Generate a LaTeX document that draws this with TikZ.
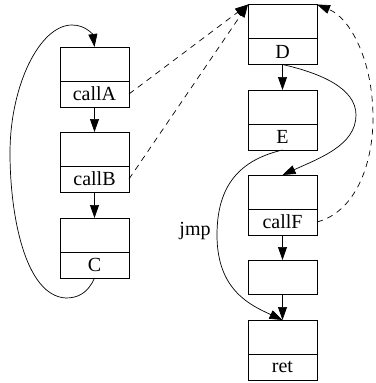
\documentclass[tikz,border=0pt]{standalone}
\usepackage{fontspec}
\setmainfont{Liberation Serif}
\usetikzlibrary{arrows.meta,positioning}
\begin{document}
\begin{tikzpicture}[x=1pt,y=-1pt,
  every node/.style={font=\fontsize{20}{22}\selectfont},
  tp/.style={draw,line width=0.7pt,minimum width=69pt,minimum height=34pt,inner sep=0pt,outer sep=0pt},
  bt/.style={draw,line width=0.7pt,minimum width=69pt,minimum height=26pt,inner sep=0pt,outer sep=0pt},
  edge/.style={line width=0.7pt,-{Triangle[length=13pt,width=9pt]}},
  dedge/.style={edge,dash pattern=on 6pt off 5pt}]
\useasboundingbox (0,0) rectangle (375,383);
% left column
\node[tp] (At) at (94.5,64) {};
\node[bt,below=0pt of At] (A) {callA};
\node[tp] (Bt) at (94.5,149) {};
\node[bt,below=0pt of Bt] (B) {callB};
\node[tp] (Ct) at (94.5,235) {};
\node[bt,below=0pt of Ct] (C) {C};
% right column
\node[tp] (Dt) at (282.5,21.5) {};
\node[bt,below=0pt of Dt] (D) {D};
\node[tp] (Et) at (282.5,107) {};
\node[bt,below=0pt of Et] (E) {E};
\node[tp] (Ft) at (282.5,192) {};
\node[bt,below=0pt of Ft] (F) {callF};
\node[tp] (G) at (282.5,277) {};
\node[tp] (Rt) at (282.5,337) {};
\node[bt,below=0pt of Rt] (R) {ret};
\node[anchor=base,inner sep=0pt] (jmp) at (195,235) {jmp};
% edges
\draw[edge] (A.south) -- (Bt.north);
\draw[edge] (B.south) -- (Ct.north);
\draw[edge] (D.south) -- (Et.north);
\draw[edge] (F.south) -- (G.north);
\draw[edge] (G.south) -- (Rt.north);
\draw[edge] (C.south) .. controls (88,293) and (78,298) .. (66,298)
  .. controls (25,296) and (10,215) .. (10,153)
  .. controls (10,85) and (40,25) .. (72,25)
  .. controls (86,25) and (93,35) .. (At.north);
\draw[dedge] (A.east) -- (Dt.north west);
\draw[dedge] (B.east) -- (Dt.north west);
\draw[dedge] (F.east) .. controls (355,212) and (373,165) .. (373,118)
  .. controls (373,60) and (350,18) .. (Dt.north east);
\draw[edge] (D.south) .. controls (320,73) and (356,88) .. (356,115)
  .. controls (356,145) and (320,158) .. (Ft.north);
\draw[edge] (E.south) .. controls (240,160) and (217,185) .. (217,235)
  .. controls (217,290) and (250,305) .. (Rt.north);
\end{tikzpicture}
\end{document}
